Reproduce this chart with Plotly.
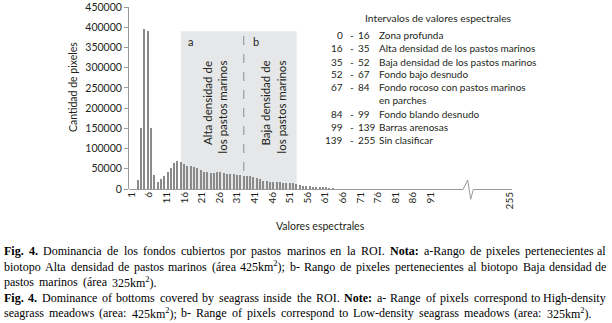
import re
import plotly.graph_objects as go

# ---------------- data ----------------
spectral_values = list(range(1, 63))
pixel_counts = [0, 0, 22000, 152000, 395000, 390000, 150000, 35000, 18000, 24000,
                32000, 42000, 52000, 65000, 69000, 67000, 62000, 57000, 56000, 55000,
                52000, 47000, 43000, 41000, 40000, 40000, 42000, 41000, 39000, 38000,
                37000, 36000, 35000, 34000, 33000, 33000, 31000, 29000, 28000, 25000,
                21000, 19000, 18000, 17000, 17000, 16500, 16000, 15000, 14500, 14000,
                12000, 10000, 8500, 7500, 6700, 5800, 5000, 4200, 3300, 2500, 1700, 900]

x_tick_labels = ["1", "6", "11", "16", "21", "26", "31", "41", "46", "51", "56",
                 "61", "66", "71", "76", "81", "86", "91", "255"]
y_tick_values = [0, 50000, 100000, 150000, 200000, 250000, 300000, 350000, 400000, 450000]

range_a = (16, 35)      # Alta densidad
range_b = (35, 51)      # Baja densidad
shade_top = 390000
dash_top = 400000

legend_from = ["0", "16", "35", "52", "67", "84", "99", "139"]
legend_to = ["16", "35", "52", "67", "84", "99", "139", "255"]
legend_names = ["Zona profunda", "Alta densidad de los pastos marinos",
                "Baja densidad de los pastos marinos", "Fondo bajo desnudo",
                "Fondo rocoso con pastos marinos\nen parches", "Fondo blando desnudo",
                "Barras arenosas", "Sin clasificar"]

caption_lines = [
    "*Fig. *4. Dominancia de los fondos cubiertos por pastos marinos en la ROI. *Nota: a-Rango de pixeles pertenecientes al",
    "biotopo Alta densidad de pastos marinos (área 425km^2); b- Rango de pixeles pertenecientes al biotopo Baja densidad de",
    "pastos marinos (área 325km^2).",
    "*Fig. *4. Dominance of bottoms covered by seagrass inside the ROI. *Note: a- Range of pixels correspond to High-density",
    "seagrass meadows (area: 425km^2); b- Range of pixels correspond to Low-density seagrass meadows (area: 325km^2).",
]
caption_justified = [True, True, False, True, False]

# ---------------- layout helpers ----------------
W, H = 612, 323
ML, MR, MT, MB = 129, 100, 7, 134
PW = W - ML - MR
PH = H - MT - MB
X_RANGE = [0.25, 116.2]
TICK_STEP = 5.33
tick_positions = [1 + TICK_STEP * i for i in range(len(x_tick_labels) - 1)] + [115.6]


def px(x):
    return (x - ML) / PW


def py(y):
    return (H - MB - y) / PH


TXT = "#231f20"
AXC = "#9a9a9a"
SANS = "Lato"
SERIF = "Liberation Serif"

fig = go.Figure()
fig.add_trace(go.Bar(x=spectral_values, y=pixel_counts, width=0.45,
                     marker=dict(color="#8a8a8a", line=dict(width=0)),
                     hoverinfo="x+y"))

shapes = [
    dict(type="rect", xref="x", yref="y", x0=range_a[0], x1=range_b[1], y0=0, y1=shade_top,
         fillcolor="#e6e7e8", line=dict(width=0), layer="below"),
    dict(type="line", xref="x", yref="y", x0=range_a[1], x1=range_a[1], y0=0, y1=dash_top,
         line=dict(color="#8c8c8c", width=1, dash="dash")),
    dict(type="path", xref="paper", yref="paper",
         path=(f"M {px(129.3)},{py(189.5)} L {px(463)},{py(189.5)} L {px(467.7)},{py(180)} "
               f"L {px(470.7)},{py(199.3)} L {px(473.3)},{py(189.5)} L {px(512)},{py(189.5)}"),
         line=dict(color=AXC, width=1)),
]

ann = []


def add_text(x, y, text, size=11, xanchor="center", yanchor="middle", angle=0,
             family=SANS, color=TXT):
    ann.append(dict(x=px(x), y=py(y), xref="paper", yref="paper", text=text,
                    showarrow=False, xanchor=xanchor, yanchor=yanchor, textangle=angle,
                    font=dict(family=family, size=size, color=color), borderpad=0))


# axis titles
add_text(73, 87, "Cantidad de pixeles", size=10.5, angle=-90)
add_text(320, 226, "Valores espectrales", size=10.5)

# region labels
add_text(190.7, 41, "a", size=11)
add_text(255.7, 41, "b", size=11)
add_text(207, 60, "Alta densidad de", size=11.5, angle=-90, yanchor="top")
add_text(222, 60, "los pastos marinos", size=11.5, angle=-90, yanchor="top")
add_text(265, 60, "Baja densidad de", size=11.5, angle=-90, yanchor="top")
add_text(281, 60, "los pastos marinos", size=11.5, angle=-90, yanchor="top")

# legend block
LEG = 10
add_text(438, 18.3, "Intervalos de valores espectrales", size=10.3)
row_y = [35, 48.3, 61.7, 74, 87.3, 114, 127.3, 140]
for a, b, name, yy in zip(legend_from, legend_to, legend_names, row_y):
    add_text(343.5, yy, a, size=LEG, xanchor="right")
    add_text(351.5, yy, "-", size=LEG)
    add_text(356.5, yy, b, size=LEG, xanchor="left")
    for k, part in enumerate(name.split("\n")):
        add_text(377.5, yy + 12.8 * k, part, size=LEG, xanchor="left")

# caption (Times metrics for justification)
REG = {" ": 250, "(": 333, ")": 333, ",": 250, "-": 333, ".": 250, ":": 278, ";": 278,
       "A": 722, "B": 667, "C": 667, "D": 722, "E": 611, "F": 556, "G": 722, "H": 722,
       "I": 333, "L": 611, "M": 889, "N": 722, "O": 722, "R": 667, "S": 556, "T": 611,
       "a": 444, "b": 500, "c": 444, "d": 500, "e": 444, "f": 333, "g": 500, "h": 500,
       "i": 278, "j": 278, "k": 500, "l": 278, "m": 778, "n": 500, "o": 500, "p": 500,
       "q": 500, "r": 333, "s": 389, "t": 278, "u": 500, "v": 500, "w": 722, "x": 500,
       "y": 500, "z": 444, "á": 444, "é": 444}
BOLD = dict(REG)
BOLD.update({"F": 611, "N": 722, "a": 500, "t": 333, ":": 333, "o": 500})
CAP_SIZE = 12
CAP_LEFT, CAP_RIGHT = 3, 607
CAP_EXTRA_SPACE = 2.0
cap_y = [251, 266.5, 282, 297.5, 313]


def word_width(tok):
    bold = tok.startswith("*")
    t = tok.lstrip("*")
    table = BOLD if bold else REG
    w = 0.0
    for part in re.split(r"(\^\d)", t):
        if part.startswith("^"):
            w += 0.7 * sum(table.get(c, 500) for c in part[1:])
        else:
            w += sum(table.get(c, 500) for c in part)
    return w * CAP_SIZE / 1000


def markup(tok):
    bold = tok.startswith("*")
    t = re.sub(r"\^(\d)", r"<sup>\1</sup>", tok.lstrip("*"))
    return f"<b>{t}</b>" if bold else t


for line, just, yy in zip(caption_lines, caption_justified, cap_y):
    words = line.split(" ")
    widths = [word_width(w) for w in words]
    if just:
        gap = (CAP_RIGHT - CAP_LEFT - sum(widths)) / (len(words) - 1)
    else:
        gap = REG[" "] * CAP_SIZE / 1000 + CAP_EXTRA_SPACE
    x = CAP_LEFT
    for i, (w, wd) in enumerate(zip(words, widths)):
        if just and i == len(words) - 1:
            add_text(CAP_RIGHT, yy, markup(w), size=CAP_SIZE, xanchor="right",
                     family=SERIF, color="#000000")
        else:
            add_text(x, yy, markup(w), size=CAP_SIZE, xanchor="left",
                     family=SERIF, color="#000000")
        x += wd + gap

fig.update_layout(
    width=W, height=H,
    margin=dict(l=ML, r=MR, t=MT, b=MB, pad=0),
    paper_bgcolor="white", plot_bgcolor="white",
    showlegend=False, bargap=0,
    font=dict(family=SANS, color=TXT),
    shapes=shapes, annotations=ann,
    xaxis=dict(range=X_RANGE, tickmode="array", tickvals=tick_positions,
               ticktext=x_tick_labels, tickangle=-90, ticks="", showline=False,
               showgrid=False, zeroline=False, tickfont=dict(size=10, color=TXT),
               automargin=False, fixedrange=True),
    yaxis=dict(range=[0, 450000], tickmode="array", tickvals=y_tick_values,
               ticktext=[str(v) for v in y_tick_values], showline=True, linecolor=AXC,
               linewidth=1, ticks="outside", ticklen=4, tickcolor=AXC, showgrid=False,
               zeroline=False, tickfont=dict(size=10.5, color=TXT), automargin=False,
               fixedrange=True),
)

fig.write_html("out.html", config={"displayModeBar": False},
               post_script="document.body.style.margin='0';")
